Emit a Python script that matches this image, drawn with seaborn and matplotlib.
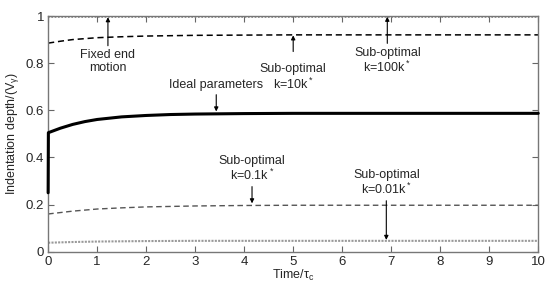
import matplotlib
matplotlib.use("Agg")
import matplotlib.pyplot as plt
import seaborn as sns

sns.set_style("ticks")
plt.rcParams['font.family'] = ['Liberation Sans', 'DejaVu Sans']
plt.rcParams['mathtext.default'] = 'regular'

# values
t_ideal = [0, 0.005, 0.25, 0.5, 0.75, 1, 1.5, 2, 2.5, 3, 4, 5, 10]
y_ideal = [0.25, 0.505, 0.524, 0.540, 0.552, 0.561, 0.572, 0.578, 0.582, 0.584, 0.586, 0.587, 0.587]

t_high = [0, 0.25, 0.5, 1, 1.5, 2, 3, 4, 5, 10]
y_high = [0.885, 0.893, 0.900, 0.908, 0.912, 0.915, 0.918, 0.919, 0.920, 0.920]

t_fixed = [0, 10]
y_fixed = [0.997, 0.997]

t_low = [0, 0.25, 0.5, 1, 1.5, 2, 3, 4, 5, 10]
y_low = [0.160, 0.166, 0.172, 0.181, 0.186, 0.190, 0.194, 0.196, 0.197, 0.197]

t_vlow = [0, 0.5, 1, 2, 3, 10]
y_vlow = [0.038, 0.041, 0.043, 0.045, 0.046, 0.046]

fig = plt.figure(figsize=(5.47, 2.86), dpi=100)
ax = fig.add_axes([0.088, 0.12, 0.896, 0.824])

sns.lineplot(x=t_fixed, y=y_fixed, ax=ax, color='#888888', lw=1.2, linestyle=(0, (1, 1)))
sns.lineplot(x=t_high, y=y_high, ax=ax, color='black', lw=1.1, linestyle=(0, (4, 2.5)))
sns.lineplot(x=t_ideal, y=y_ideal, ax=ax, color='black', lw=2.2, clip_on=False, zorder=5)
sns.lineplot(x=t_low, y=y_low, ax=ax, color='#555555', lw=1.0, linestyle=(0, (4, 2.5)))
sns.lineplot(x=t_vlow, y=y_vlow, ax=ax, color='#999999', lw=1.5, linestyle=(0, (1, 0.6)))

ax.set_xlim(0, 10)
ax.set_ylim(0, 1)
ax.set_xticks(range(0, 11))
ax.set_yticks([0, 0.2, 0.4, 0.6, 0.8, 1])
ax.set_yticklabels(['0', '0.2', '0.4', '0.6', '0.8', '1'])
ax.tick_params(direction='in', top=True, right=True, labelsize=9.5, length=4, width=0.8, pad=3, color='#666666')
for s in ax.spines.values():
    s.set_color('#777777')
    s.set_linewidth(1.0)

ax.set_xlabel(r'Time/$\tau_c$', fontsize=9, labelpad=0)
ax.set_ylabel(r'Indentation depth/(V$_\gamma$)', fontsize=9, labelpad=3)

fs = 9
ap = dict(arrowstyle='-|>', color='black', lw=0.8, mutation_scale=6, shrinkA=0, shrinkB=0)
ap_gap = dict(ap, shrinkA=6)
ax.annotate('Fixed end\nmotion', xy=(1.22, 0.995), xytext=(1.22, 0.86), ha='center', va='top',
            fontsize=fs, linespacing=1.1, arrowprops=ap)
ax.annotate('Ideal parameters', xy=(3.43, 0.595), xytext=(3.43, 0.68), ha='center', va='bottom',
            fontsize=fs, arrowprops=ap)
ax.annotate('Sub-optimal\nk=10k$^*$', xy=(5.0, 0.918), xytext=(5.0, 0.80), ha='center', va='top',
            fontsize=fs, linespacing=1.1, arrowprops=ap_gap)
ax.annotate('Sub-optimal\nk=100k$^*$', xy=(6.92, 0.997), xytext=(6.92, 0.87), ha='center', va='top',
            fontsize=fs, linespacing=1.1, arrowprops=ap)
ax.annotate('Sub-optimal\nk=0.1k$^*$', xy=(4.16, 0.205), xytext=(4.16, 0.29), ha='center', va='bottom',
            fontsize=fs, linespacing=1.1, arrowprops=ap)
ax.annotate('Sub-optimal\nk=0.01k$^*$', xy=(6.9, 0.05), xytext=(6.9, 0.23), ha='center', va='bottom',
            fontsize=fs, linespacing=1.1, arrowprops=ap)

fig.savefig('out.png', dpi=100)
